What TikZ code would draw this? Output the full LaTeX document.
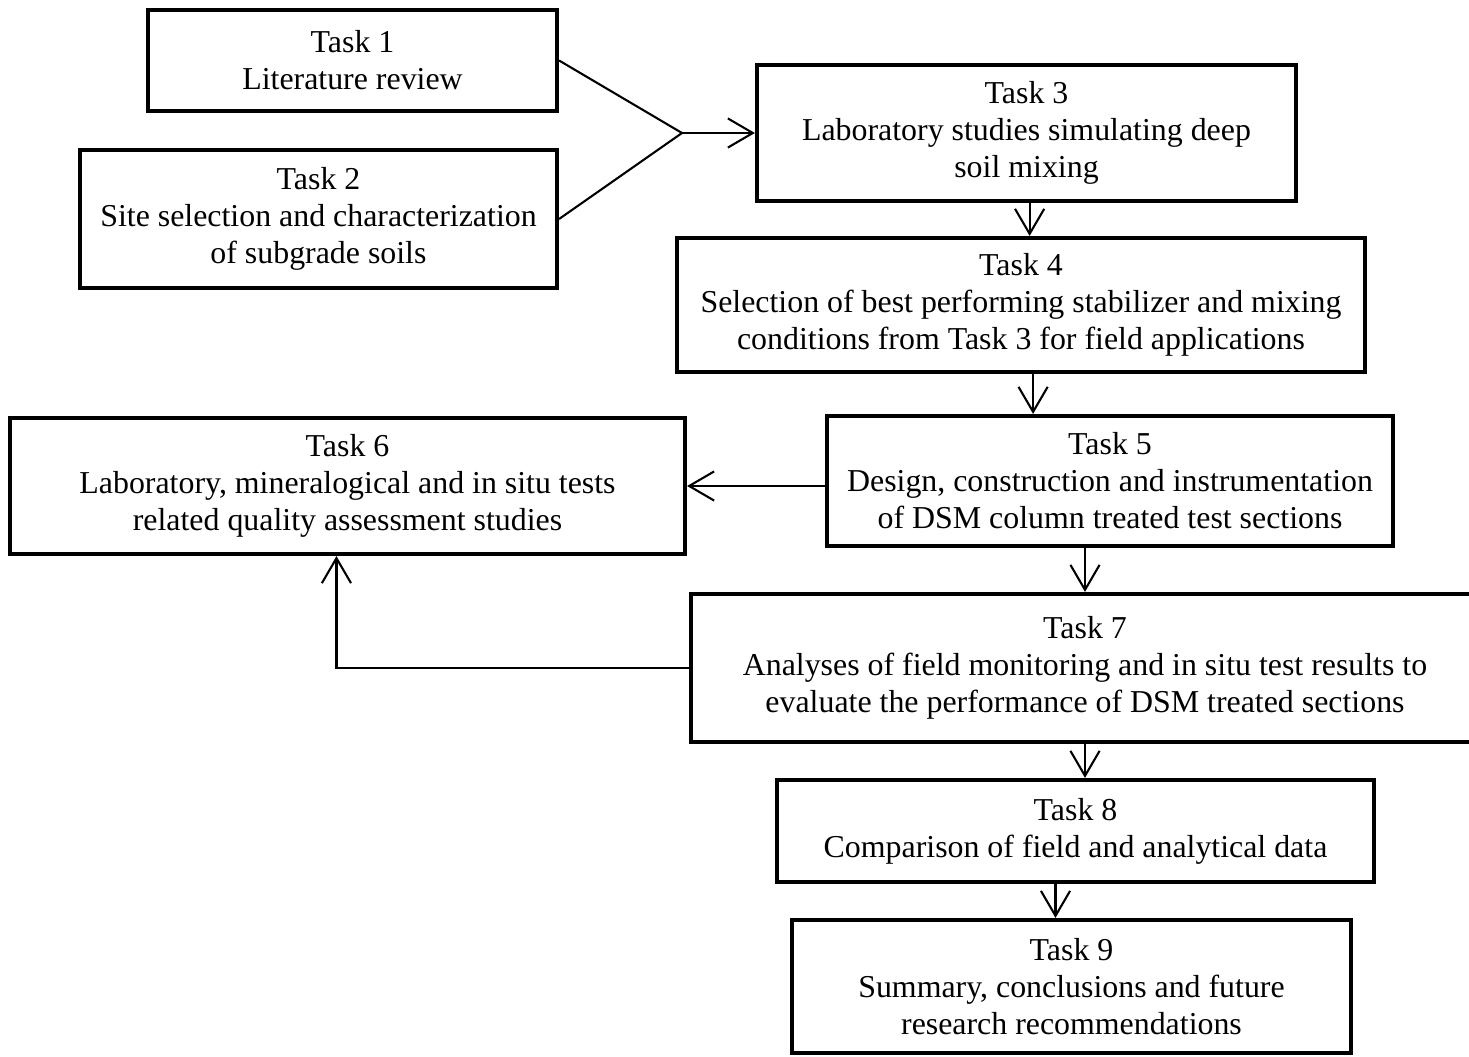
\documentclass[tikz,border=0pt]{standalone}
\usepackage{fontspec}
\setmainfont{Liberation Serif}
\usetikzlibrary{arrows.meta}

\tikzset{
  task/.style={draw, line width=2pt, align=center, inner sep=0pt,
    font=\fontsize{15.3}{17.8}\selectfont},
  boxsize/.style 2 args={minimum width=#1*0.48pt, minimum height=#2*0.48pt},
  link/.style={line width=1pt},
  arr/.style={link, -{Straight Barb[length=12pt,width=14pt]}}
}

\begin{document}
\begin{tikzpicture}[x=0.48pt, y=-0.48pt]
    \useasboundingbox (0,0) rectangle (1469,1057);
    \clip (0,0) rectangle (1469,1057);
    % task boxes
    \node[task, boxsize={409}{101}] (t1) at (352.5,60.5) {Task 1\\Literature review};
    \node[task, boxsize={477}{138}] (t2) at (318.5,219) {Task 2\\Site selection and characterization\\of subgrade soils};
    \node[task, boxsize={539}{136}] (t3) at (1026.5,133) {Task 3\\Laboratory studies simulating deep\\soil mixing};
    \node[task, boxsize={688}{134}] (t4) at (1021,305) {Task 4\\Selection of best performing stabilizer and mixing\\conditions from Task 3 for field applications};
    \node[task, boxsize={566}{130}] (t5) at (1110,481) {Task 5\\Design, construction and instrumentation\\of DSM column treated test sections};
    \node[task, boxsize={675}{136}] (t6) at (347.5,486) {Task 6\\Laboratory, mineralogical and in situ tests\\related quality assessment studies};
    \node[task, boxsize={788}{148}] (t7) at (1085,668) {Task 7\\Analyses of field monitoring and in situ test results to\\evaluate the performance of DSM treated sections};
    \node[task, boxsize={597}{102}] (t8) at (1075.5,831) {Task 8\\Comparison of field and analytical data};
    \node[task, boxsize={559}{133}] (t9) at (1071.5,986.5) {Task 9\\Summary, conclusions and future\\research recommendations};
    \coordinate (j) at (682,133);

    % connectors
    \draw[link] (t1.east) -- (j);
    \draw[link] (t2.east) -- (j);
    \draw[arr] (j) -- (j -| t3.west);
    \draw[arr] ([xshift=1.5pt]t3.south) -- ([xshift=1.5pt]t3.south |- t4.north);
    \draw[arr] ([xshift=5.8pt]t4.south) -- ([xshift=5.8pt]t4.south |- t5.north);
    \draw[arr] (t5.west |- t6) -- (t6.east);
    \draw[arr] (t5.south -| t7) -- (t7.north);
    \draw[arr] (t7.west) -| ([xshift=-5.3pt]t6.south);
    \draw[arr] (t7.south) -- (t7.south |- t8.north);
    \draw[arr] ([xshift=-9.6pt]t8.south) -- ([xshift=-9.6pt]t8.south |- t9.north);
  \end{tikzpicture}
\end{document}
